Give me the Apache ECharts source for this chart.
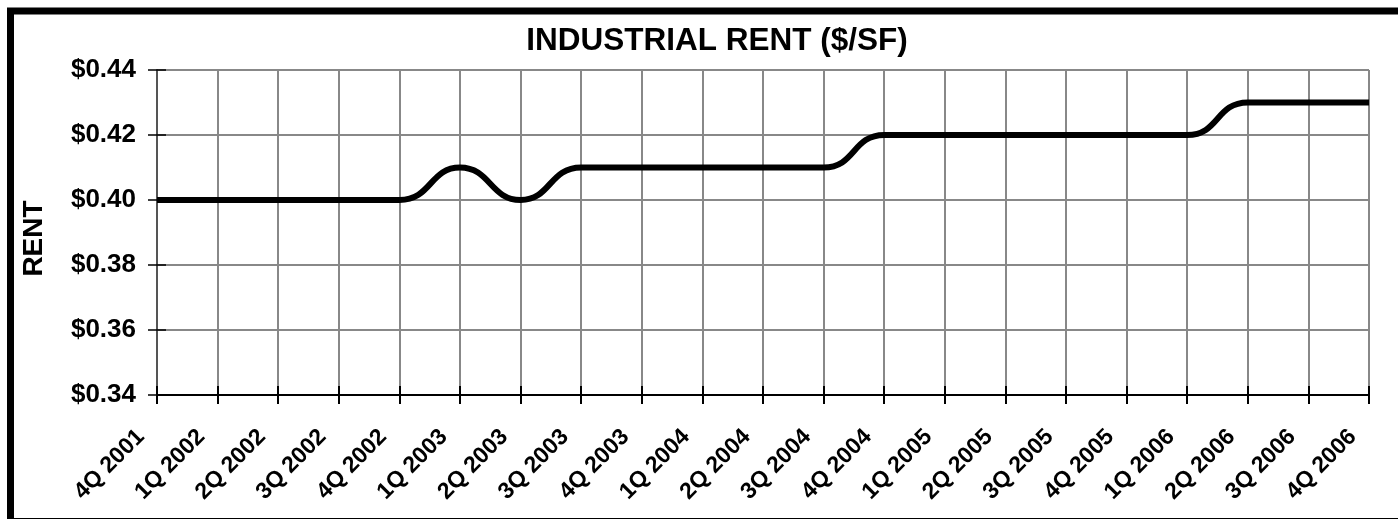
<!DOCTYPE html>
<html><head><meta charset="utf-8">
<script src="https://cdn.jsdelivr.net/npm/echarts@6/dist/echarts.min.js"></script>
<style>html,body{margin:0;padding:0;background:#fff}#c{width:1398px;height:519px}</style>
</head><body><div id="c"></div>
<script>
const categories = ['4Q 2001','1Q 2002','2Q 2002','3Q 2002','4Q 2002','1Q 2003','2Q 2003','3Q 2003','4Q 2003','1Q 2004','2Q 2004','3Q 2004','4Q 2004','1Q 2005','2Q 2005','3Q 2005','4Q 2005','1Q 2006','2Q 2006','3Q 2006','4Q 2006'];
const rent = [0.40,0.40,0.40,0.40,0.40,0.41,0.40,0.41,0.41,0.41,0.41,0.41,0.42,0.42,0.42,0.42,0.42,0.42,0.43,0.43,0.43];
const yTicks = {min:0.34, max:0.44, interval:0.02};
const titleText = 'INDUSTRIAL RENT ($/SF)';
const yName = 'RENT';

const chart = echarts.init(document.getElementById('c'), null, {renderer:'canvas'});
const font = 'Arial, "Liberation Sans", sans-serif';
chart.setOption({
  animation:false,
  backgroundColor:'#fff',
  title:{text:titleText, left:717, top:25, padding:0, textAlign:'center',
    textStyle:{fontFamily:font, fontWeight:'bold', fontSize:31.5, color:'#000'}},
  graphic:[{type:'rect', shape:{x:10.5, y:11, width:1500, height:510.5},
    style:{fill:'none', stroke:'#000', lineWidth:7}, z:100}],
  grid:{left:157, right:29, top:70, bottom:124, containLabel:false},
  xAxis:[{type:'category', data:categories, boundaryGap:false,
    axisLine:{lineStyle:{color:'#000', width:2}},
    axisTick:{show:true, length:9, lineStyle:{color:'#000', width:2}},
    axisLabel:{rotate:45, margin:22, fontFamily:font, fontWeight:'bold', fontSize:23, color:'#000', interval:0,
      formatter:v=>v+'\u2003'},
    splitLine:{show:true, lineStyle:{color:'#888', width:2}}},
   {type:'category', data:categories, boundaryGap:false, position:'bottom',
    axisLine:{show:false}, axisLabel:{show:false}, splitLine:{show:false},
    axisTick:{show:true, inside:true, length:9, lineStyle:{color:'#000', width:2}}}],
  yAxis:[{type:'value', min:yTicks.min, max:yTicks.max, interval:yTicks.interval,
    name:yName, nameLocation:'middle', nameGap:109, nameRotate:90,
    nameTextStyle:{fontFamily:font, fontWeight:'bold', fontSize:28, color:'#000', padding:[0,12,0,0]},
    axisLine:{show:true, lineStyle:{color:'#555', width:2}},
    axisTick:{show:true, length:9, lineStyle:{color:'#000', width:1.5}},
    axisLabel:{margin:21, fontFamily:font, fontWeight:'bold', fontSize:26, color:'#000',
      formatter:v=>'$'+v.toFixed(2)},
    splitLine:{show:true, lineStyle:{color:'#888', width:2}}},
   {type:'value', min:yTicks.min, max:yTicks.max, interval:yTicks.interval, position:'left',
    axisLine:{show:false}, axisLabel:{show:false}, splitLine:{show:false},
    axisTick:{show:true, inside:true, length:9, lineStyle:{color:'#000', width:1.5}}}],
  series:[{type:'line', data:rent, smooth:0.5, showSymbol:false, symbol:'none',
    lineStyle:{color:'#000', width:6}, z:5}]
});
</script></body></html>
